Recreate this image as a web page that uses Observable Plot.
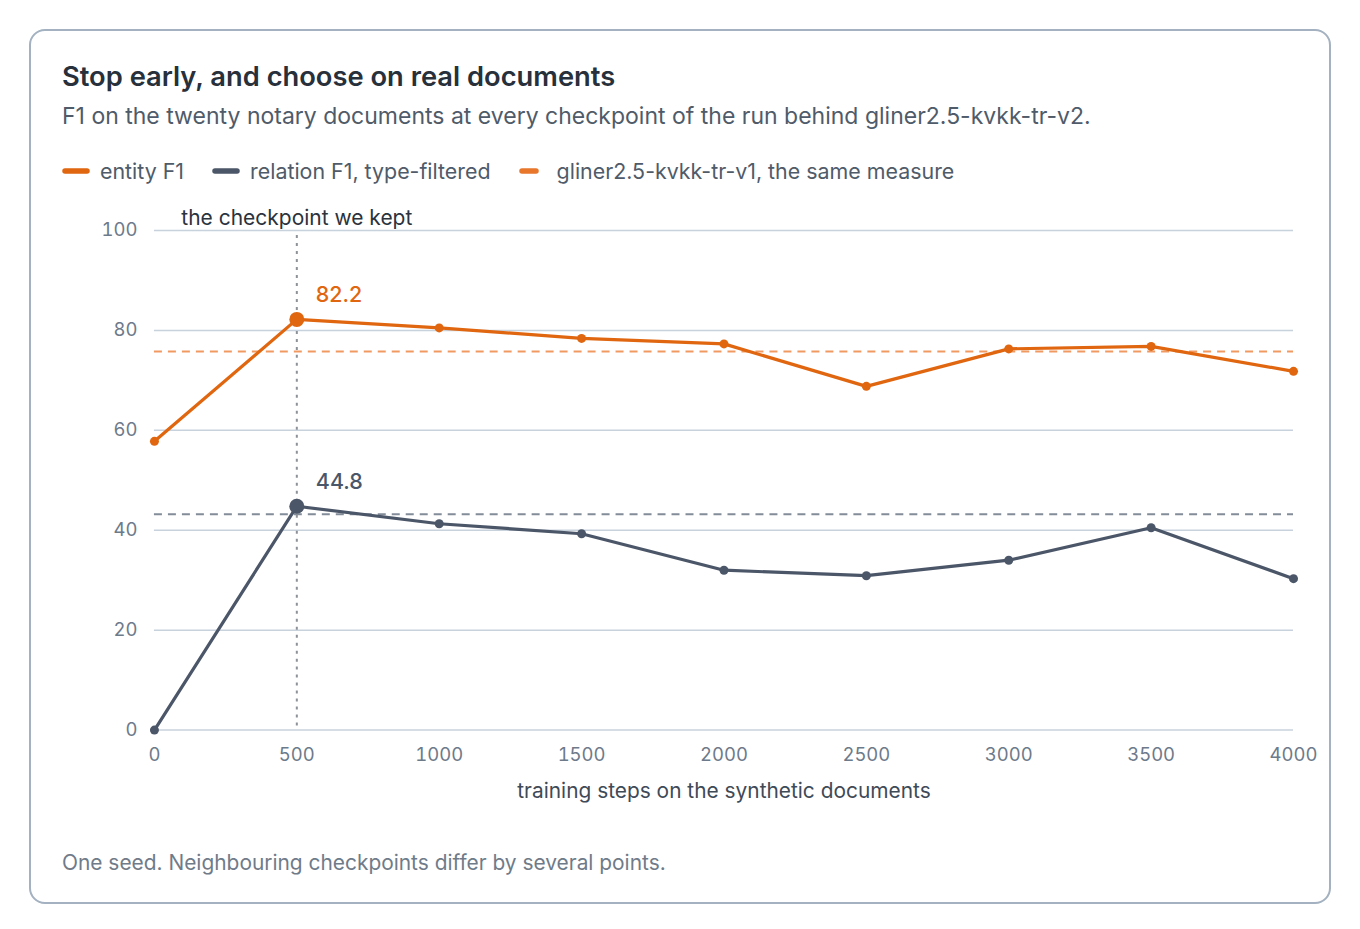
<!DOCTYPE html>
<html>
<head>
<meta charset="utf-8">
<script src="https://cdn.jsdelivr.net/npm/d3@7"></script>
<script src="https://cdn.jsdelivr.net/npm/@observablehq/plot@0.6"></script>
<style>
  html, body { margin: 0; padding: 0; background: #ffffff; }
  body { width: 1360px; height: 929px; position: relative; font-family: Inter, "Noto Sans", sans-serif; }
  .card {
    position: absolute; left: 29px; top: 29px; width: 1302px; height: 875px;
    box-sizing: border-box; border: 2px solid #a3b1c0; border-radius: 16px; background: #fff;
  }
  .title { position: absolute; left: 31px; top: 29px; font-size: 27.3px; font-weight: 600; color: #27303b; white-space: nowrap; }
  .subtitle { position: absolute; left: 31px; top: 71px; font-size: 23px; color: #4f5b69; white-space: nowrap; }
  .legend { position: absolute; left: 31px; top: 127px; display: flex; align-items: center; font-size: 21.4px; color: #4f5b69; white-space: nowrap; }
  .legend .item { display: flex; align-items: center; margin-right: 28px; }
  .legend svg { margin-right: 10px; }
  .chart { position: absolute; left: 31px; top: 168px; }
  .caption { position: absolute; left: 31px; top: 819px; font-size: 20.9px; color: #6f7b89; white-space: nowrap; }
</style>
</head>
<body>
<div class="card">
  <div class="title" id="title"></div>
  <div class="subtitle" id="subtitle"></div>
  <div class="legend" id="legend"></div>
  <div class="chart" id="chart"></div>
  <div class="caption" id="caption"></div>
</div>
<script>
// ---- data ----
const steps = [0, 500, 1000, 1500, 2000, 2500, 3000, 3500, 4000];
const entityF1 = [57.8, 82.2, 80.5, 78.4, 77.3, 68.8, 76.3, 76.8, 71.8];
const relationF1 = [0, 44.8, 41.3, 39.3, 32.0, 30.9, 34.0, 40.5, 30.3];
const baselineNames = ["entity F1", "relation F1, type-filtered"];
const baselineV1 = [75.8, 43.2];
const keptStep = 500;
const yTicks = [0, 20, 40, 60, 80, 100];
const xTicks = steps;
const seriesNames = ["entity F1", "relation F1, type-filtered", "gliner2.5-kvkk-tr-v1, the same measure"];

const titleText = "Stop early, and choose on real documents";
const subtitleText = "F1 on the twenty notary documents at every checkpoint of the run behind gliner2.5-kvkk-tr-v2.";
const xLabel = "training steps on the synthetic documents";
const keptLabel = "the checkpoint we kept";
const captionText = "One seed. Neighbouring checkpoints differ by several points.";

// ---- colours ----
const ORANGE = "#e0660f";
const ORANGE_LIGHT = "#f09a62";
const SLATE = "#4b5668";
const SLATE_LIGHT = "#838c99";

document.getElementById("title").textContent = titleText;
document.getElementById("subtitle").textContent = subtitleText;
document.getElementById("caption").textContent = captionText;

// legend
const legend = document.getElementById("legend");
const swatches = [
  {color: ORANGE, dash: null},
  {color: SLATE, dash: null},
  {color: "#e8772c", dash: "14 8"}
];
seriesNames.forEach((name, i) => {
  const item = document.createElement("div");
  item.className = "item";
  const s = swatches[i];
  item.innerHTML = `<svg width="28" height="8"><line x1="3" x2="25" y1="4" y2="4" stroke="${s.color}" stroke-width="5.5" stroke-linecap="round" ${s.dash ? `stroke-dasharray="${s.dash}"` : ""}/></svg><span>${name}</span>`;
  legend.appendChild(item);
});

const entity = steps.map((s, i) => ({step: s, f1: entityF1[i]}));
const relation = steps.map((s, i) => ({step: s, f1: relationF1[i]}));
const keptIdx = steps.indexOf(keptStep);
const keptPoints = [
  {step: keptStep, f1: entityF1[keptIdx], color: ORANGE},
  {step: keptStep, f1: relationF1[keptIdx], color: SLATE}
];
const baselines = baselineNames.map((n, i) => ({name: n, v: baselineV1[i], color: i === 0 ? ORANGE_LIGHT : SLATE_LIGHT}));

const chart = Plot.plot({
  width: 1268,
  height: 620,
  marginLeft: 92,
  marginRight: 36,
  marginTop: 31,
  marginBottom: 89,
  style: {fontFamily: "Inter, 'Noto Sans', sans-serif", fontSize: "18px", background: "transparent", overflow: "visible"},
  x: {domain: [0, 4000], ticks: xTicks, label: null, tickFormat: d => String(d)},
  y: {domain: [0, 100], ticks: yTicks, label: null},
  marks: [
    Plot.ruleY(yTicks, {stroke: "#c8d2dd", strokeWidth: 1.5}),
    Plot.ruleY(baselines, {y: "v", stroke: "color", strokeWidth: 2, strokeDasharray: "8 6"}),
    Plot.ruleX([keptStep], {stroke: "#8d9298", strokeWidth: 2, strokeDasharray: "3 5", insetTop: 5}),
    Plot.text([keptLabel], {x: keptStep, y: 100, dy: -12, fill: "#2b333d", fontSize: 21, textAnchor: "middle"}),
    Plot.lineY(entity, {x: "step", y: "f1", stroke: ORANGE, strokeWidth: 3.2}),
    Plot.lineY(relation, {x: "step", y: "f1", stroke: SLATE, strokeWidth: 3.2}),
    Plot.dot(entity, {x: "step", y: "f1", fill: ORANGE, r: 4.5}),
    Plot.dot(relation, {x: "step", y: "f1", fill: SLATE, r: 4.5}),
    Plot.dot(keptPoints, {x: "step", y: "f1", fill: "color", r: 7.5}),
    Plot.text(keptPoints, {x: "step", y: "f1", text: d => d.f1.toFixed(1), fill: "color", fontSize: 21.5, fontWeight: 500, textAnchor: "start", dx: 19, dy: -24}),
    Plot.axisY({ticks: yTicks, tickSize: 0, tickPadding: 17, fill: "#6d7a8a", fontSize: 18.5}),
    Plot.axisX({ticks: xTicks, tickSize: 0, tickPadding: 18, fill: "#6d7a8a", fontSize: 18.5, tickFormat: d => String(d)}),
    Plot.text([xLabel], {frameAnchor: "bottom", lineAnchor: "middle", dy: 61, fill: "#3f4a57", fontSize: 20.9})
  ]
});
document.getElementById("chart").appendChild(chart);
</script>
</body>
</html>
